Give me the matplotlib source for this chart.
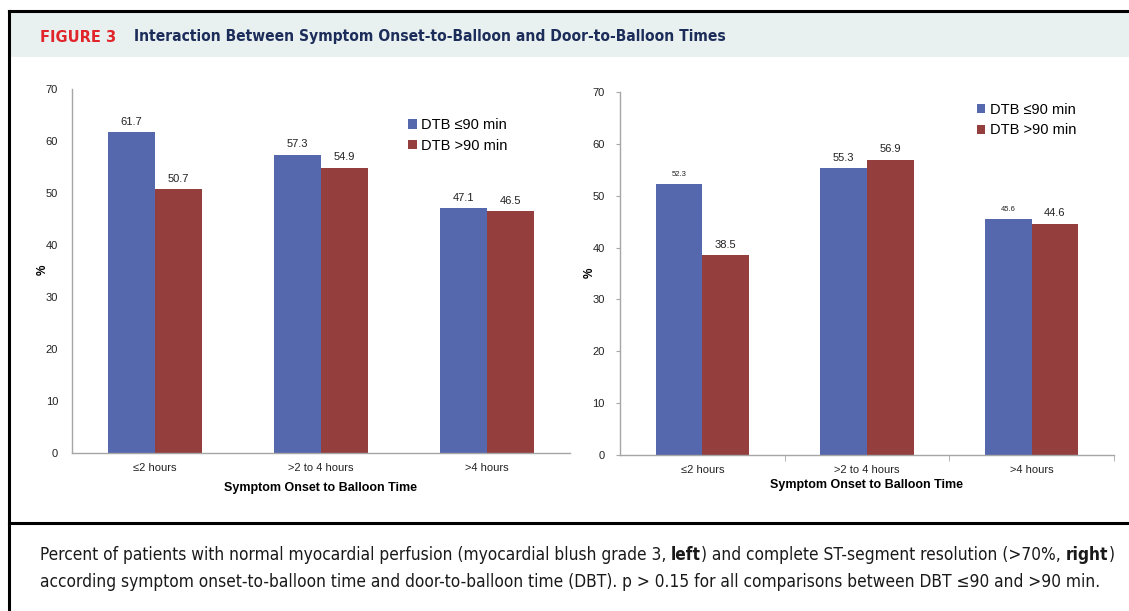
import numpy as np
import matplotlib
matplotlib.use('Agg')
import matplotlib.pyplot as plt
from matplotlib.lines import Line2D
from matplotlib.patches import Rectangle

# data
categories = ['≤2 hours', '>2 to 4 hours', '>4 hours']
series_names = ['DTB ≤90 min', 'DTB >90 min']
blush_short = [61.7, 57.3, 47.1]   # left panel, DTB <=90
blush_long = [50.7, 54.9, 46.5]    # left panel, DTB >90
st_short = [52.3, 55.3, 45.6]      # right panel, DTB <=90
st_long = [38.5, 56.9, 44.6]       # right panel, DTB >90
yticks = [0, 10, 20, 30, 40, 50, 60, 70]

BLUE = '#5567ad'
RED = '#943f3e'
W, H = 1129, 611

plt.rcParams['font.family'] = ['Liberation Sans', 'DejaVu Sans']

fig = plt.figure(figsize=(W / 100, H / 100), dpi=100)
fig.patch.set_facecolor('white')


def fx(px):
    return px / W


def fy(py):
    return 1 - py / H


# frame and header band
fig.patches.append(Rectangle((fx(9), fy(57)), fx(W) - fx(9), fy(12) - fy(57),
                             transform=fig.transFigure, facecolor='#e8f0f0',
                             edgecolor='none', zorder=0))
for xs, ys in [([8.5, W], [10.5, 10.5]), ([8.5, 8.5], [10.5, H]),
               ([8.5, W], [523, 523])]:
    fig.lines.append(Line2D([fx(x) for x in xs], [fy(y) for y in ys],
                            transform=fig.transFigure, color='black', lw=2.2))

fig.text(fx(40), fy(37), 'FIGURE 3', color='#e0252b', fontsize=10.5,
         fontweight='bold', va='center', family=['DejaVu Sans'])
fig.text(fx(134), fy(37), 'Interaction Between Symptom Onset-to-Balloon and Door-to-Balloon Times',
         color='#1c2d5a', fontsize=11.2, fontweight='bold', va='center',
         family=['DejaVu Sans'], stretch='condensed')


def panel(rect, short, long_, ticks_on, label_sizes, ylab_x):
    ax = fig.add_axes(rect)
    x = np.arange(len(categories))
    bw = 0.283
    b1 = ax.bar(x - bw / 2, short, bw, color=BLUE, label=series_names[0])
    b2 = ax.bar(x + bw / 2, long_, bw, color=RED, label=series_names[1])
    for bars, vals, sizes in [(b1, short, label_sizes[0]), (b2, long_, label_sizes[1])]:
        for b, v, s in zip(bars, vals, sizes):
            ax.annotate(f'{v:.1f}', (b.get_x() + b.get_width() / 2, v),
                        xytext=(0, 4), textcoords='offset points',
                        ha='center', va='bottom', fontsize=s, color='#222222')
    ax.set_xlim(-0.5, 2.5)
    ax.set_ylim(0, 70)
    ax.set_yticks(yticks)
    ax.set_xticks(x)
    ax.set_xticklabels(categories)
    for s in ['top', 'right']:
        ax.spines[s].set_visible(False)
    for s in ['left', 'bottom']:
        ax.spines[s].set_color('#a6a6a6')
        ax.spines[s].set_linewidth(1.0)
    ax.tick_params(axis='both', labelsize=8, colors='#222222')
    ax.tick_params(axis='x', length=0, pad=7)
    if ticks_on:
        ax.tick_params(axis='y', length=3, color='#a6a6a6', pad=8)
        ax.set_xticks([0.5, 1.5, 2.5], minor=True)
        ax.tick_params(axis='x', which='minor', length=4, color='#a6a6a6')
    else:
        ax.tick_params(axis='y', length=0, pad=10)
    ax.set_ylabel('%', fontsize=8.5, fontweight='bold')
    ax.yaxis.set_label_coords(ylab_x, 0.503)
    return ax


axl = panel([fx(72), fy(453), fx(570) - fx(72), fy(89) - fy(453)],
            blush_short, blush_long, False, ([8] * 3, [8] * 3), -0.046)
axl.set_xlabel('Symptom Onset to Balloon Time', fontsize=9, fontweight='bold', labelpad=7)
axl.legend(loc='upper left', bbox_to_anchor=(0.66, 0.94), frameon=False, fontsize=10.5,
           handlelength=0.6, handleheight=0.6, handletextpad=0.3, labelspacing=0.45,
           borderpad=0)

axr = panel([fx(620), fy(455), fx(1114) - fx(620), fy(92) - fy(455)],
            st_short, st_long, True, ([5.5, 8, 5.5], [8] * 3), -0.049)
axr.set_xlabel('Symptom Onset to Balloon Time', fontsize=9, fontweight='bold', labelpad=3)
axr.legend(loc='upper left', bbox_to_anchor=(0.707, 0.99), frameon=False, fontsize=10.5,
           handlelength=0.6, handleheight=0.6, handletextpad=0.3, labelspacing=0.45,
           borderpad=0)

# caption with bold words
renderer = fig.canvas.get_renderer()


def rich_line(x, y, parts):
    for s, w in parts:
        t = fig.text(x, y, s, fontweight=w, fontsize=12.4, color='#1a1a1a', va='center',
                     family=['DejaVu Sans'], stretch='condensed')
        bb = t.get_window_extent(renderer=renderer)
        x += bb.width / fig.bbox.width


rich_line(fx(40), fy(555), [
    ('Percent of patients with normal myocardial perfusion (myocardial blush grade 3, ', 'normal'),
    ('left', 'bold'),
    (') and complete ST-segment resolution (>70%, ', 'normal'),
    ('right', 'bold'),
    (')', 'normal')])
rich_line(fx(40), fy(582), [
    ('according symptom onset-to-balloon time and door-to-balloon time (DBT). p > 0.15 for all '
     'comparisons between DBT ≤90 and >90 min.', 'normal')])

fig.savefig('out.png', dpi=100)
